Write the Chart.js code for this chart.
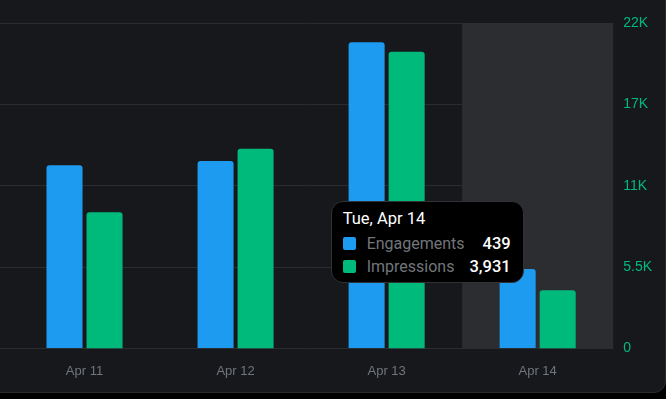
<!DOCTYPE html>
<html>
<head>
<meta charset="utf-8">
<script src="https://cdn.jsdelivr.net/npm/chart.js@4.4.1/dist/chart.umd.min.js"></script>
<style>
    html, body { margin: 0; padding: 0; background: #000; overflow: hidden; }
    #card {
        position: absolute; left: -16px; top: -16px; width: 680px; height: 407px;
        background: #17181c; border: 1px solid #2a2c30; border-radius: 12px;
    }
    #wrap { position: absolute; left: 0; top: 0; width: 666px; height: 399px; }
    #tip {
        position: absolute; background: #000; border: 1px solid #2f3336; border-radius: 12px;
        padding: 7px 12px 4px 11px; font-family: Roboto, "Noto Sans", sans-serif; color: #fff;
        pointer-events: none; opacity: 0; box-sizing: border-box; width: 193px;
    }
    #tip .title { font-size: 16.5px; line-height: 19px; margin: 0 0 4px 0; }
    #tip .row { display: flex; align-items: center; height: 23px; font-size: 16px; }
    #tip .box { width: 13px; height: 13px; border-radius: 2px; margin-right: 11px; }
    #tip .lab { color: #71767b; flex: 1; }
    #tip .val { font-weight: 500; font-size: 16.5px; }
</style>
</head>
<body>
<div id="card"></div>
<div id="wrap">
    <canvas id="chartDays"></canvas>
    <div id="tip"></div>
</div>
<script>
const days = ['Apr 11', 'Apr 12', 'Apr 13', 'Apr 14'];
const dayTitles = ['Sat, Apr 11', 'Sun, Apr 12', 'Mon, Apr 13', 'Tue, Apr 14'];
const engagements = [1013, 1037, 1693, 439];
const impressions = [9206, 13491, 20057, 3931];
const impressionTicks = ['0', '5.5K', '11K', '17K', '22K'];
const hoverIndex = 3;

const blue = '#1d9bf0';
const green = '#00ba7c';

// grey band behind the hovered day
const hoverBand = {
    id: 'hoverBand',
    beforeDatasetsDraw(chart) {
        const x = chart.scales.x;
        const area = chart.chartArea;
        const w = (x.getPixelForValue(1) - x.getPixelForValue(0));
        const cx = x.getPixelForValue(hoverIndex);
        const ctx = chart.ctx;
        ctx.save();
        ctx.fillStyle = '#2c2d30';
        ctx.fillRect(cx - w / 2, area.top, w, area.bottom - area.top);
        ctx.restore();
    }
};

function tipHandler(context) {
    const tooltip = context.tooltip;
    const el = document.getElementById('tip');
    if (tooltip.opacity === 0 || !tooltip.dataPoints || !tooltip.dataPoints.length) {
        el.style.opacity = 0;
        return;
    }
    const idx = tooltip.dataPoints[0].dataIndex;
    let html = '<div class="title">' + dayTitles[idx] + '</div>';
    tooltip.dataPoints.forEach((p) => {
        html += '<div class="row"><div class="box" style="background:' + p.dataset.backgroundColor + '"></div>' +
            '<span class="lab">' + p.dataset.label + '</span>' +
            '<span class="val">' + p.raw.toLocaleString('en-US') + '</span></div>';
    });
    el.innerHTML = html;
    const chart = context.chart;
    el.style.left = (chart.scales.x.getPixelForValue(idx) - 207) + 'px';
    el.style.top = (chart.chartArea.top + 178) + 'px';
    el.style.opacity = 1;
}

const ctxDays = document.getElementById('chartDays');
const chartDays = new Chart(ctxDays, {
    type: 'bar',
    data: {
        labels: days,
        datasets: [{
            label: 'Engagements',
            data: engagements,
            backgroundColor: blue,
            borderRadius: { topLeft: 3, topRight: 3 },
            borderSkipped: 'start',
            yAxisID: 'yEng',
            categoryPercentage: 0.53,
            barPercentage: 0.9
        }, {
            label: 'Impressions',
            data: impressions,
            backgroundColor: green,
            borderRadius: { topLeft: 3, topRight: 3 },
            borderSkipped: 'start',
            yAxisID: 'yImp',
            categoryPercentage: 0.53,
            barPercentage: 0.9
        }]
    },
    options: {
        responsive: true,
        maintainAspectRatio: false,
        animation: false,
        events: [],
        layout: { padding: { top: 23, right: 4, bottom: 5, left: 0 } },
        plugins: {
            legend: { display: false },
            tooltip: { enabled: false, mode: 'index', intersect: false, external: tipHandler }
        },
        scales: {
            x: {
                grid: { display: false, drawTicks: false },
                border: { display: false },
                ticks: {
                    color: '#71767b',
                    padding: 15,
                    font: { family: '"Liberation Sans", Arial, sans-serif', size: 13 }
                }
            },
            yEng: {
                position: 'left',
                min: 0,
                max: 1800,
                ticks: { display: false, stepSize: 450 },
                border: { display: false },
                grid: { color: '#2a2c31', tickLength: 9, tickColor: '#2a2c31' }
            },
            yImp: {
                position: 'right',
                min: 0,
                max: 22000,
                border: { display: false },
                grid: { display: false, drawTicks: false },
                ticks: {
                    stepSize: 5500,
                    padding: 10,
                    color: green,
                    font: { family: '"Liberation Sans", Arial, sans-serif', size: 14 },
                    callback: function (value, index) {
                        return impressionTicks[index];
                    }
                }
            }
        }
    },
    plugins: [hoverBand]
});

const activeBars = [
    { datasetIndex: 0, index: hoverIndex },
    { datasetIndex: 1, index: hoverIndex }
];
chartDays.tooltip.setActiveElements(activeBars, { x: chartDays.scales.x.getPixelForValue(hoverIndex), y: 250 });
chartDays.update();
</script>
</body>
</html>
